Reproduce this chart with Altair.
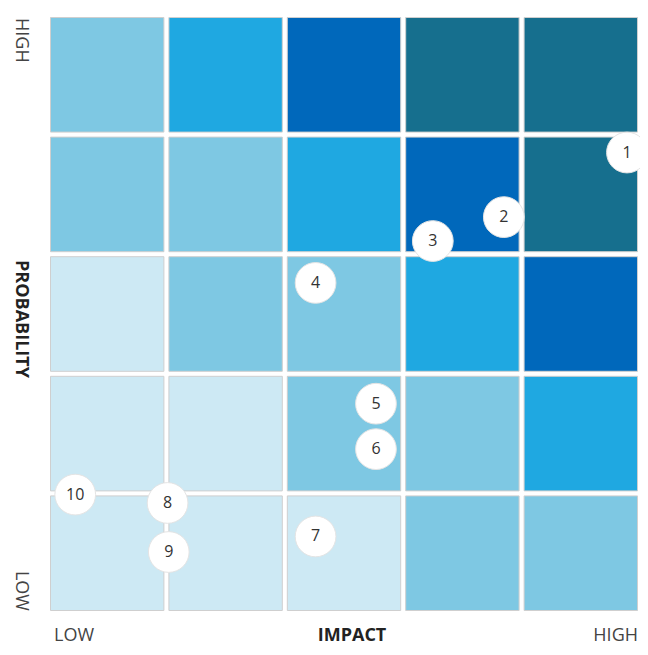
import altair as alt
import pandas as pd

# Risk matrix levels, rows from top (HIGH probability) to bottom (LOW)
level_rows = [
    [1, 2, 3, 4, 4],
    [1, 1, 2, 3, 4],
    [0, 1, 1, 2, 3],
    [0, 0, 1, 1, 2],
    [0, 0, 0, 1, 1],
]
level_colors = ["#cde9f4", "#7ec8e3", "#1fa8e1", "#0068bb", "#166f8e"]

risk_ids = ["1", "2", "3", "4", "5", "6", "7", "8", "9", "10"]
risk_impact = [4.89, 3.85, 3.25, 2.26, 2.77, 2.77, 2.26, 1.01, 1.02, 0.23]
risk_prob = [3.85, 3.31, 3.11, 2.76, 1.75, 1.37, 0.64, 0.92, 0.51, 0.99]

cells = []
n = len(level_rows)
for r, row in enumerate(level_rows):
    for c, lv in enumerate(row):
        cells.append({"c0": c, "c1": c + 1, "r0": n - 1 - r, "r1": n - r, "level": lv})
cells_df = pd.DataFrame(cells)
risks_df = pd.DataFrame({"id": risk_ids, "impact": risk_impact, "prob": risk_prob})

W, H = 592, 598
xs = alt.Scale(domain=[0, 5], nice=False, zero=False)
ys = alt.Scale(domain=[0, 5], nice=False, zero=False)

grid = alt.Chart(cells_df).mark_rect(
    xOffset=2.5, x2Offset=-2.5, yOffset=-2.5, y2Offset=2.5,
    stroke="#cfcfcf", strokeWidth=1
).encode(
    x=alt.X("c0:Q", scale=xs, axis=None),
    x2="c1:Q",
    y=alt.Y("r0:Q", scale=ys, axis=None),
    y2="r1:Q",
    color=alt.Color("level:O", scale=alt.Scale(domain=[0, 1, 2, 3, 4], range=level_colors), legend=None),
)

dots = alt.Chart(risks_df).mark_circle(
    size=1660, color="white", opacity=1, stroke="#e4e4e4", strokeWidth=1
).encode(
    x=alt.X("impact:Q", scale=xs, axis=None),
    y=alt.Y("prob:Q", scale=ys, axis=None),
)

nums = alt.Chart(risks_df).mark_text(
    font="Open Sans", fontSize=16, color="#333333"
).encode(
    x=alt.X("impact:Q", scale=xs, axis=None),
    y=alt.Y("prob:Q", scale=ys, axis=None),
    text="id:N",
)

lab_df = pd.DataFrame({"t": ["x"]})

def label(text, x, y, align, angle=0, bold=False, color="#444444"):
    return alt.Chart(lab_df).mark_text(
        text=text, align=align, baseline="middle", angle=angle,
        font="Open Sans", fontSize=18, fontWeight="bold" if bold else "normal",
        color=color,
    ).encode(x=alt.value(x), y=alt.value(y))

labels = [
    label("HIGH", -27, 3, "left", angle=90),
    label("PROBABILITY", -27, 304, "center", angle=90, bold=True, color="#222222"),
    label("LOW", -27, 596, "right", angle=90),
    label("LOW", 6, 621, "left"),
    label("IMPACT", 304, 621, "center", bold=True, color="#222222"),
    label("HIGH", 590, 621, "right"),
]

chart = alt.layer(grid, dots, nums, *labels).properties(
    width=W, height=H,
    autosize=alt.AutoSizeParams(type="none"),
    padding={"left": 40, "top": 7, "right": 0, "bottom": 34},
).configure_view(stroke=None)

chart.save("out.html", embed_options={"renderer": "svg", "actions": False})
